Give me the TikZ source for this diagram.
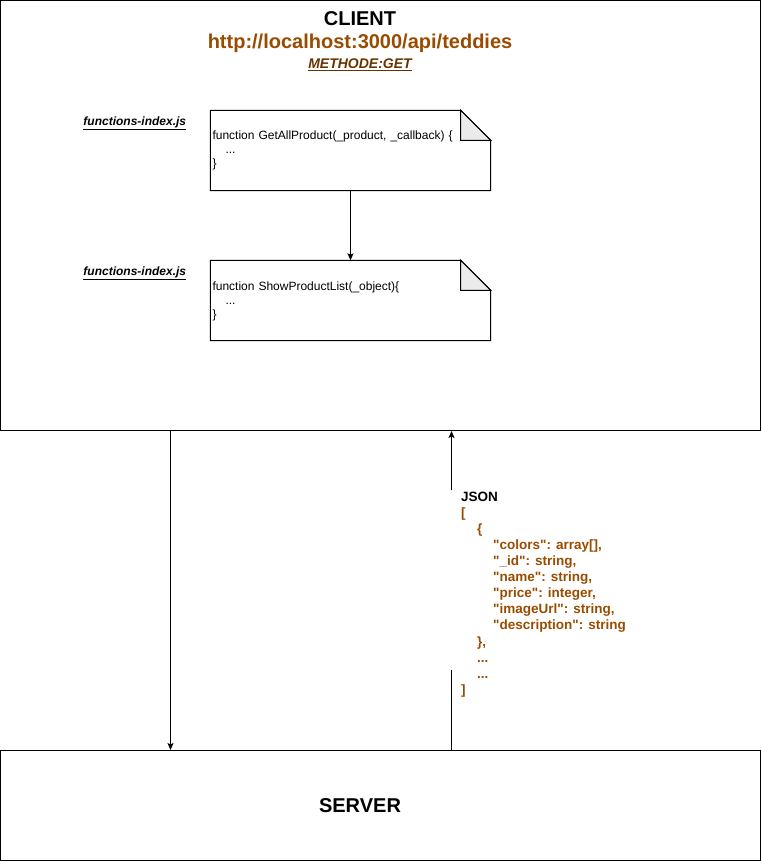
\documentclass[tikz,border=0pt]{standalone}
\usepackage{fontspec}
\setmainfont{Liberation Sans}
\newfontfamily\jsonfont{Liberation Sans}[Ligatures=TeXOff]
\usepackage{xcolor}
\usetikzlibrary{arrows.meta}
\definecolor{urlbrown}{HTML}{994C00}
\definecolor{getbrown}{HTML}{663300}
\definecolor{foldgray}{HTML}{EBEBEB}
\newcommand{\jsindent}{\hspace*{16pt}}
\tikzstyle{boxframe} = [rectangle, draw=black, line width=1pt, minimum width=760pt, inner sep=0pt]
\tikzstyle{codenote} = [rectangle, minimum width=280pt, minimum height=80pt, text width=276pt, inner xsep=2pt, align=left, text height=9pt, text depth=30pt, font=\fontsize{12}{14}\selectfont]
\tikzstyle{filename} = [anchor=base east, inner sep=0pt, font=\fontsize{12}{14}\selectfont\bfseries\itshape]
\tikzstyle{heading} = [anchor=base, inner sep=0pt, font=\fontsize{20}{24}\selectfont\bfseries]
\tikzstyle{arrow} = [line width=1pt,->,>={Stealth[length=7pt,width=6pt,inset=1.5pt]}]

\begin{document}
\begin{tikzpicture}[x=1pt, y=-1pt]
				\useasboundingbox (0,0) rectangle (761,861);
				\node (client) [boxframe, minimum height=430pt] at (380.5,215.5) {};
				\node (server) [boxframe, minimum height=110pt] at (380.5,805.5) {};
				\node (clientname) [heading] at (360,26) {CLIENT};
				\node (url) [heading, text=urlbrown] at (360,49) {http://localhost:3000/api/teddies};
				\node (method) [heading, font=\fontsize{14}{16}\selectfont\bfseries\itshape, text=getbrown] at (360,68.5) {\underline{METHODE:GET}};
				\node (servername) [heading] at (360,812.5) {SERVER};

				\node (getall) [codenote] at (350.5,150.5) {function GetAllProduct(\_product, \_callback) \{\\\hspace*{13pt}...\\\}};
				\node (showlist) [codenote] at (350.5,300.5) {function ShowProductList(\_object)\{\\\hspace*{13pt}...\\\}};
				\foreach \doc in {getall, showlist} {
					\draw [line width=1pt] (\doc.north west) -- ([xshift=-30pt]\doc.north east) -- ([yshift=-30pt]\doc.north east) -- (\doc.south east) -- (\doc.south west) -- cycle;
					\draw [line width=1pt, fill=foldgray] ([xshift=-30pt]\doc.north east) -- ([xshift=-30pt,yshift=-30pt]\doc.north east) -- ([yshift=-30pt]\doc.north east) -- cycle;
				}
				\node (getallfile) [filename] at ([xshift=-24pt,yshift=-15pt]getall.north west) {\underline{functions-index.js}};
				\node (showlistfile) [filename] at ([xshift=-24pt,yshift=-15pt]showlist.north west) {\underline{functions-index.js}};

				\node (json) [anchor=north west, inner sep=0pt, align=left, font=\fontsize{13.5}{16.1}\selectfont\jsonfont\bfseries, text=urlbrown] at (461,491.5) {\textcolor{black}{JSON}\\{[}\\
					\jsindent\{\\
					\jsindent\jsindent"colors": array[],\\
					\jsindent\jsindent"\_id": string,\\
					\jsindent\jsindent"name": string,\\
					\jsindent\jsindent"price": integer,\\
					\jsindent\jsindent"imageUrl": string,\\
					\jsindent\jsindent"description": string\\
					\jsindent\},\\
					\jsindent...\\
					\jsindent...\\
					{]}};

				\coordinate (request) at (170.5,0);
				\coordinate (response) at (451.5,0);
				\coordinate (jsontop) at (451.5,490);
				\coordinate (jsonbottom) at (451.5,670);
				\draw [arrow] (getall) -- (showlist);
				\draw [arrow] (client.south -| request) -- (server.north -| request);
				\draw [arrow] (server.north -| response) -- (jsonbottom) (jsontop) -- (client.south -| response);

			\end{tikzpicture}
\end{document}
